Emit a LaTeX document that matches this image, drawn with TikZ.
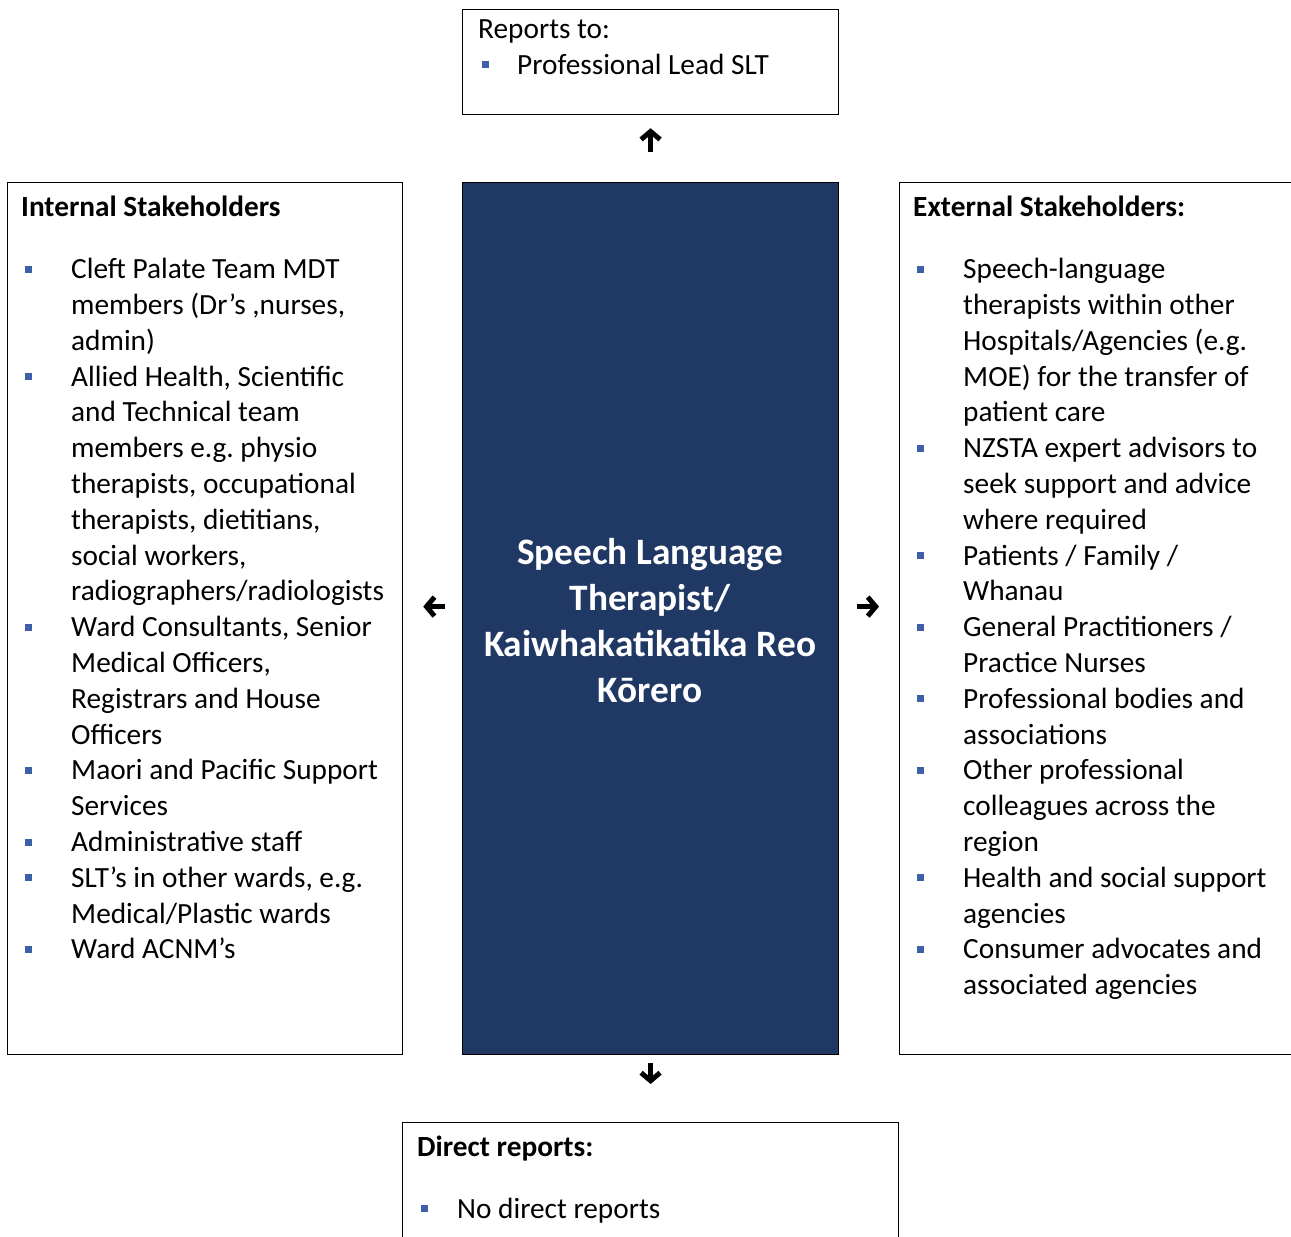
\documentclass[tikz,border=0pt]{standalone}
\usepackage{fontspec}
\setmainfont{Carlito}
\usetikzlibrary{arrows.meta}
\frenchspacing

\definecolor{boxnavy}{HTML}{203864}
\definecolor{bulletblue}{HTML}{3F5FA8}
\newcommand{\bsq}{\textcolor{bulletblue}{\rule[6pt]{7pt}{7pt}}}
\newcommand{\bitem}[1]{\hspace*{4pt}\makebox[\dimexpr#1-4pt\relax][l]{\bsq}}
\newcommand{\bcont}[1]{\hspace*{#1}}

\tikzset{
    box/.style={draw, line width=1.2pt, inner sep=0pt, anchor=north west},
    hd/.style={anchor=base west, inner sep=0pt, font=\fontsize{29.3}{35.8}\selectfont\bfseries},
    items/.style={anchor=north west, inner sep=0pt, align=left, font=\fontsize{29.3}{35.8}\selectfont},
    arr/.style={-{Straight Barb[length=8pt,width=19pt]}, line width=5pt}
}

\begin{document}
\begin{tikzpicture}[x=1pt, y=-1pt]
    \useasboundingbox (0, 0) rectangle (1291, 1237);
    \node[box, minimum width=376pt, minimum height=105pt] (top) at (462, 9) {};
    \node[box, minimum width=395pt, minimum height=872pt] (int) at (7, 182) {};
    \node[box, fill=boxnavy, minimum width=376pt, minimum height=872pt] (ctr) at (462, 182) {};
    \node[box, minimum width=420pt, minimum height=872pt] (ext) at (899, 182) {};
    \node[box, minimum width=496pt, minimum height=140pt] (bot) at (402, 1122) {};

    \node[items] (toptxt) at (478, 13) {\strut Reports to:\\ \bitem{39pt}Professional Lead SLT};

    \node[hd] (inthd) at (21, 216) {Internal Stakeholders};
    \node[items] (inttxt) at (21, 253.5) {\strut\bitem{50pt}Cleft Palate Team MDT\\
        \bcont{50pt}members (Dr’s ,nurses,\\
        \bcont{50pt}admin)\\
        \bitem{50pt}Allied Health, Scientific\\
        \bcont{50pt}and Technical team\\
        \bcont{50pt}members e.g. physio\\
        \bcont{50pt}therapists, occupational\\
        \bcont{50pt}therapists, dietitians,\\
        \bcont{50pt}social workers,\\
        \bcont{50pt}radiographers/radiologists\\
        \bitem{50pt}Ward Consultants, Senior\\
        \bcont{50pt}Medical Officers,\\
        \bcont{50pt}Registrars and House\\
        \bcont{50pt}Officers\\
        \bitem{50pt}Maori and Pacific Support\\
        \bcont{50pt}Services\\
        \bitem{50pt}Administrative staff\\
        \bitem{50pt}SLT’s in other wards, e.g.\\
        \bcont{50pt}Medical/Plastic wards\\
        \bitem{50pt}Ward ACNM’s};

    \node[align=center, text=white, inner sep=0pt, font=\fontsize{37.3}{46}\selectfont\bfseries] (ctrtxt) at (650, 621)
        {Speech Language\\ Therapist/\\ Kaiwhakatikatika Reo\\ Kōrero};

    \node[hd] (exthd) at (913, 216) {External Stakeholders:};
    \node[items] (exttxt) at (913, 253.5) {\strut\bitem{50pt}Speech-language\\
        \bcont{50pt}therapists within other\\
        \bcont{50pt}Hospitals/Agencies (e.g.\\
        \bcont{50pt}MOE) for the transfer of\\
        \bcont{50pt}patient care\\
        \bitem{50pt}NZSTA expert advisors to\\
        \bcont{50pt}seek support and advice\\
        \bcont{50pt}where required\\
        \bitem{50pt}Patients / Family /\\
        \bcont{50pt}Whanau\\
        \bitem{50pt}General Practitioners /\\
        \bcont{50pt}Practice Nurses\\
        \bitem{50pt}Professional bodies and\\
        \bcont{50pt}associations\\
        \bitem{50pt}Other professional\\
        \bcont{50pt}colleagues across the\\
        \bcont{50pt}region\\
        \bitem{50pt}Health and social support\\
        \bcont{50pt}agencies\\
        \bitem{50pt}Consumer advocates and\\
        \bcont{50pt}associated agencies};

    \node[hd] (bothd) at (417, 1156) {Direct reports:};
    \node[items, anchor=base west] (bottxt) at (417, 1218) {\bitem{40pt}No direct reports};

    \draw[arr, shorten <=30pt, shorten >=13pt] (ctr.north) -- (top.south);
    \draw[arr, shorten <=17pt, shorten >=20pt] ([yshift=12pt]ctr.west) -- ([yshift=12pt]int.east);
    \draw[arr, shorten <=18pt, shorten >=20pt] ([yshift=12pt]ctr.east) -- ([yshift=12pt]ext.west);
    \draw[arr, shorten <=8pt, shorten >=38pt] (ctr.south) -- (bot.north);
\end{tikzpicture}
\end{document}
